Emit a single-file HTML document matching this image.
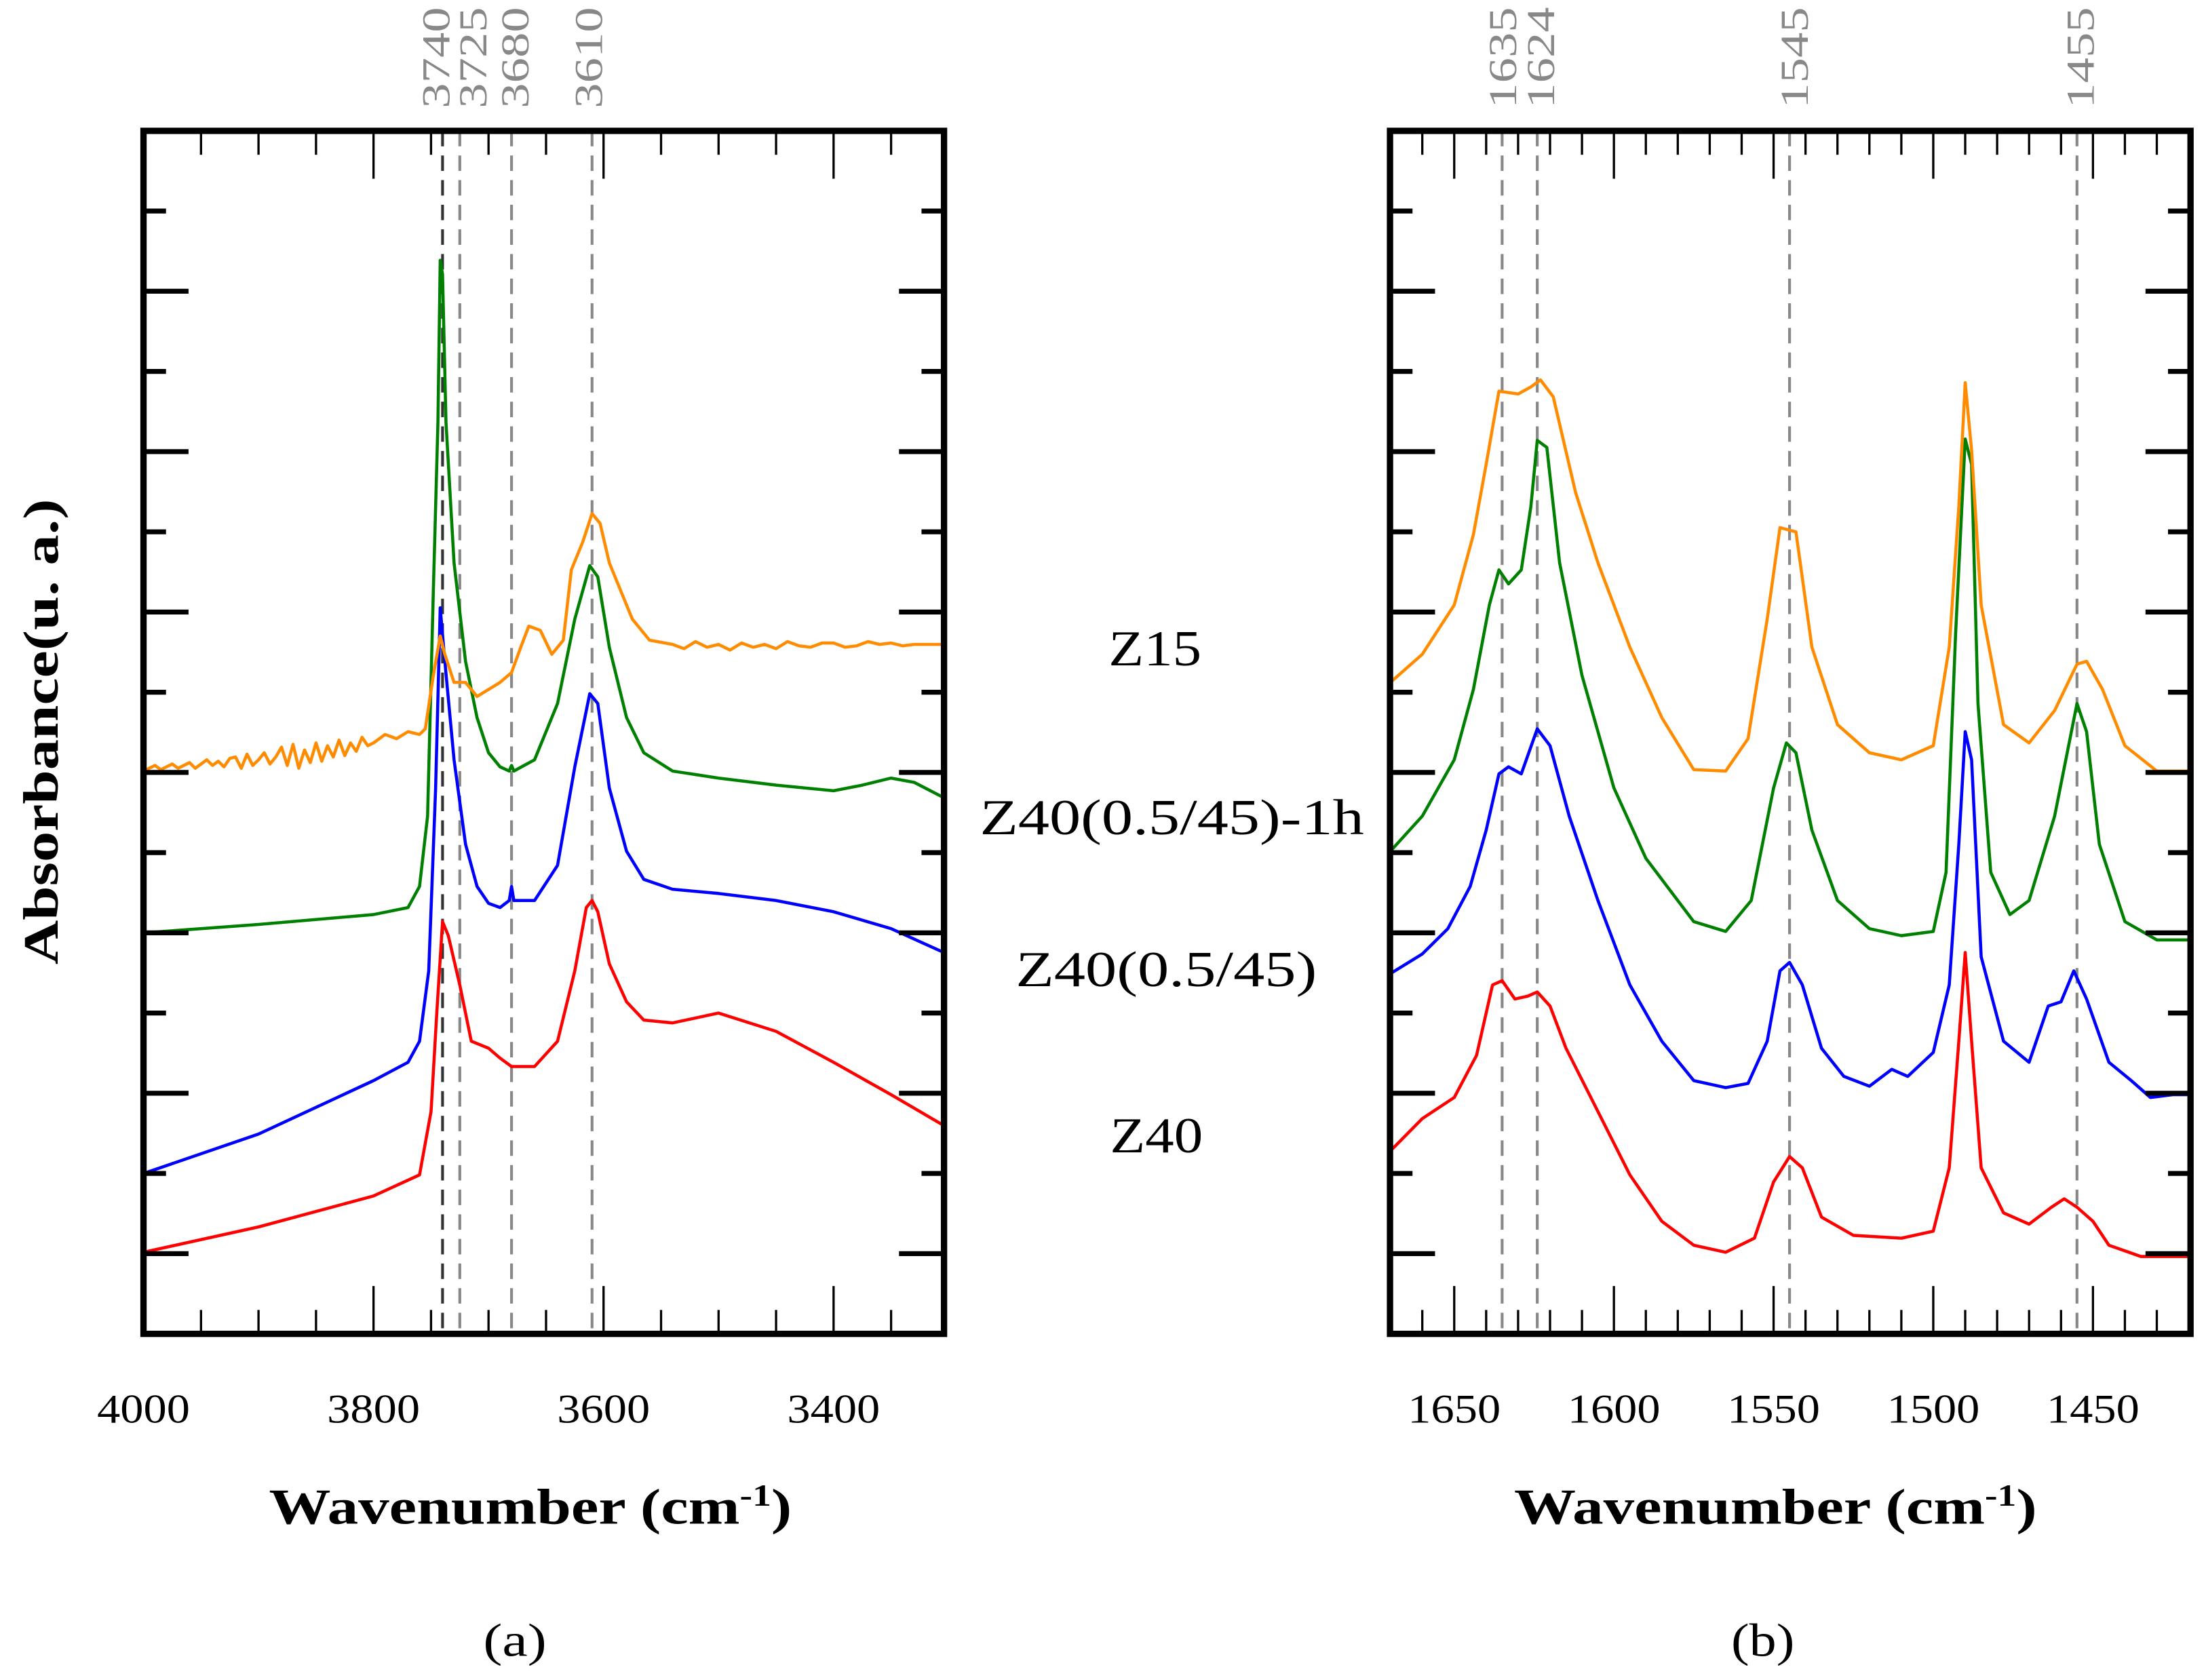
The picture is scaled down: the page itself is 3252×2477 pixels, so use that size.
<!DOCTYPE html>
<html><head><meta charset="utf-8"><style>
html,body{margin:0;padding:0;background:#fff}
svg{display:block}
text{font-family:"Liberation Serif",serif}
</style></head><body>
<svg id="fig" xmlns="http://www.w3.org/2000/svg" width="3252" height="2477" viewBox="0 0 1568 1194" preserveAspectRatio="none">
<defs>
<clipPath id="clipL"><rect x="102" y="93" width="569" height="855"/></clipPath>
<clipPath id="clipR"><rect x="988" y="93" width="569" height="855"/></clipPath>
</defs>
<g id="gL"></g>
<g id="gR"></g>
<text transform="translate(41,520) rotate(-90)" text-anchor="middle" font-size="35" font-weight="bold" textLength="331" lengthAdjust="spacingAndGlyphs">Absorbance(u. a.)</text>
<g transform="translate(377,1083) scale(1.22,1)"><text x="0" y="0" text-anchor="middle" font-size="36" font-weight="bold">Wavenumber (cm<tspan dy="-13" font-size="22">-1</tspan><tspan dy="13">)</tspan></text></g>
<g transform="translate(1262,1083) scale(1.22,1)"><text x="0" y="0" text-anchor="middle" font-size="36" font-weight="bold">Wavenumber (cm<tspan dy="-13" font-size="22">-1</tspan><tspan dy="13">)</tspan></text></g>
<text x="366" y="1177" text-anchor="middle" font-size="33" textLength="45" lengthAdjust="spacingAndGlyphs">(a)</text>
<text x="1253" y="1177" text-anchor="middle" font-size="33" textLength="45" lengthAdjust="spacingAndGlyphs">(b)</text>
<text x="821" y="473" text-anchor="middle" font-size="36" textLength="66" lengthAdjust="spacingAndGlyphs">Z15</text>
<text x="833" y="593" text-anchor="middle" font-size="36" textLength="273" lengthAdjust="spacingAndGlyphs">Z40(0.5/45)-1h</text>
<text x="829" y="701" text-anchor="middle" font-size="36" textLength="214" lengthAdjust="spacingAndGlyphs">Z40(0.5/45)</text>
<text x="822" y="819" text-anchor="middle" font-size="36" textLength="66" lengthAdjust="spacingAndGlyphs">Z40</text>
</svg>
<script>
// ---- Panel (a) data: wavenumber (cm-1) and absorbance (arb. milli-units)
const aRedW=[4000,3900,3800,3760,3750,3745,3740,3735,3725,3715,3700,3690,3680,3660,3640,3625,3615,3610,3605,3595,3580,3565,3540,3500,3450,3400,3350,3304];
const aRedV=[58,76,98,113,158,228,293,283,248,208,203,196,190,190,208,258,303,308,300,263,236,223,221,228,215,193,170,148];
const aBlueW=[4000,3900,3800,3770,3760,3752,3746,3742,3738,3730,3720,3710,3700,3690,3682,3680,3678,3660,3640,3625,3612,3605,3595,3580,3565,3540,3500,3450,3400,3350,3304];
const aBlueV=[114,142,180,193,208,258,388,516,478,408,348,318,306,303,308,318,308,308,333,403,455,448,388,343,323,316,313,308,300,288,271];
const aGreenW=[4000,3900,3800,3770,3760,3753,3748,3744,3742,3740,3737,3730,3720,3710,3700,3690,3682,3680,3678,3660,3640,3625,3612,3605,3595,3580,3565,3540,3500,3450,3400,3375,3350,3330,3304];
const aGreenV=[285,291,298,303,318,368,528,648,763,753,648,548,478,438,413,403,400,404,400,408,448,508,546,538,488,438,413,400,395,390,386,390,395,392,381];
const aOrangeW=[4000,3995,3990,3985,3980,3975,3970,3965,3960,3955,3950,3945,3940,3935,3930,3925,3920,3915,3910,3905,3900,3895,3890,3885,3880,3875,3870,3865,3860,3855,3850,3845,3840,3835,3830,3825,3820,3815,3810,3805,3800,3790,3780,3770,3760,3755,3748,3742,3738,3730,3720,3710,3700,3690,3680,3672,3665,3655,3645,3635,3628,3618,3610,3603,3595,3585,3575,3560,3540,3530,3520,3510,3500,3490,3480,3470,3460,3450,3440,3430,3420,3410,3400,3390,3380,3370,3360,3350,3340,3330,3304];
const aOrangeV=[400,402,404,401,403,405,402,404,406,402,405,408,404,407,403,409,410,402,412,404,408,413,405,410,417,404,419,402,415,406,420,407,418,410,422,411,420,414,424,418,420,426,423,428,426,430,468,496,483,463,463,453,458,463,470,488,503,500,483,493,543,563,583,576,548,528,508,493,490,487,492,488,490,486,491,488,490,487,492,489,488,491,491,488,489,492,490,491,489,490,490];
const aTickLabels=[4000,3800,3600,3400];
const aPeaks=[3740,3725,3680,3610];
// ---- Panel (b) data
const bRedW=[1670,1660,1650,1643,1638,1635,1631,1627,1624,1620,1615,1605,1595,1585,1575,1565,1556,1550,1545,1541,1535,1525,1510,1500,1495,1492,1490,1488,1485,1478,1470,1463,1459,1455,1450,1445,1435,1419];
const bRedV=[130,153,168,198,248,251,238,240,243,233,203,158,113,80,63,58,68,108,126,118,83,70,68,73,118,208,271,208,118,86,78,90,96,90,80,63,55,55];
const bBlueW=[1670,1660,1652,1645,1640,1636,1633,1629,1624,1620,1614,1605,1595,1585,1575,1565,1558,1552,1548,1545,1541,1535,1528,1520,1513,1508,1500,1495,1492,1490,1488,1485,1478,1470,1464,1460,1456,1452,1445,1438,1432,1425,1419];
const bBlueV=[256,270,288,318,358,398,403,398,430,418,368,308,248,208,180,175,178,208,258,264,248,203,183,176,188,183,200,248,348,428,408,268,208,193,233,236,258,238,193,180,168,170,170];
const bGreenW=[1670,1660,1650,1644,1639,1636,1633,1629,1626,1624,1621,1617,1610,1600,1590,1580,1575,1565,1557,1550,1546,1543,1538,1530,1520,1510,1500,1496,1493,1490,1488,1486,1482,1476,1470,1462,1455,1452,1448,1440,1430,1419];
const bGreenV=[343,368,408,458,518,543,533,543,588,635,630,548,468,388,338,308,293,286,308,388,420,413,358,308,288,283,286,328,498,636,618,448,328,298,308,368,448,428,348,293,280,280];
const bOrangeW=[1670,1660,1650,1644,1640,1636,1630,1626,1623,1619,1612,1605,1595,1585,1575,1565,1558,1552,1548,1543,1538,1530,1520,1510,1500,1495,1492,1490,1488,1485,1478,1470,1462,1455,1452,1447,1440,1430,1419];
const bOrangeV=[463,483,518,568,618,670,668,673,678,666,598,548,488,438,401,400,423,508,573,570,488,433,413,408,418,488,588,676,628,518,433,420,443,476,478,458,418,400,400];
const bTickLabels=[1650,1600,1550,1500,1450];
const bPeaks=[1635,1624,1545,1455];

const NS="http://www.w3.org/2000/svg";
const TOP=93,BOT=948;
function yS(v){return BOT-v*(BOT-TOP)/855;}
function mk(tag,attrs,parent){const e=document.createElementNS(NS,tag);for(const k in attrs)e.setAttribute(k,attrs[k]);parent.appendChild(e);return e;}

function panel(g,clip,x0,x1,xS,wFrom,wTo,minorStep,majorStep,ticks,peaks,labelShift,series,pfx){
  peaks.forEach((p,i)=>{
    const x=xS(p);
    const l=mk('line',{x1:x,x2:x,y1:TOP,y2:BOT,stroke:(i===0&&pfx==='a')?'#333':'#888','stroke-width':2,'stroke-dasharray':'11,6.5'},g);
    
    
    const t=mk('text',{transform:'translate('+(x+labelShift[i]+10)+',77) rotate(-90)','font-size':28,fill:'#888',textLength:72,lengthAdjust:'spacingAndGlyphs'},g);
    t.textContent=p;
    
    
  });
  const cg=mk('g',{'clip-path':'url(#'+clip+')'},g);
  series.forEach(s=>{
    const d=s.w.map((w,i)=>(i?'L':'M')+xS(w).toFixed(2)+','+yS(s.v[i]).toFixed(2)).join('');
    const p=mk('path',{d:d,fill:'none',stroke:s.c,'stroke-width':2.2,'stroke-linejoin':'round'},cg);
    
    
  });
  const lo=Math.min(wFrom,wTo),hi=Math.max(wFrom,wTo);
  for(let w=Math.ceil(lo/minorStep)*minorStep;w<=hi;w+=minorStep){
    const x=xS(w);if(x<=x0+2||x>=x1-2)continue;
    const major=(w%majorStep===0);const len=major?34:17;
    mk('line',{x1:x,x2:x,y1:TOP,y2:TOP+len,stroke:'#000','stroke-width':1.6},g);
    mk('line',{x1:x,x2:x,y1:BOT,y2:BOT-len,stroke:'#000','stroke-width':1.6},g);
  }
  ticks.forEach(w=>{
    const t=mk('text',{x:xS(w),y:1011,'text-anchor':'middle','font-size':29,textLength:66,lengthAdjust:'spacingAndGlyphs'},g);
    t.textContent=w;
    
    
  });
  for(let k=1;k<15;k++){
    const y=TOP+k*57;const len=(k%2===0)?32:16;
    mk('line',{x1:x0,x2:x0+len,y1:y,y2:y,stroke:'#000','stroke-width':3.5},g);
    mk('line',{x1:x1,x2:x1-len,y1:y,y2:y,stroke:'#000','stroke-width':3.5},g);
  }
  const fr=mk('rect',{x:x0,y:TOP,width:x1-x0,height:BOT-TOP,fill:'none',stroke:'#000','stroke-width':4.5},g);
  
  
}
function xA(w){return 102+(4000-w)*0.8175;}
function xB(w){return 1272+(1545-w)*2.27;}
panel(document.getElementById('gL'),'clipL',102,671,xA,4000,3304,50,200,aTickLabels,aPeaks,[-5,9,2,-3],[
 {n:'z40',c:'#ff0000',w:aRedW,v:aRedV},{n:'z40-05-45',c:'#0000ff',w:aBlueW,v:aBlueV},
 {n:'z40-05-45-1h',c:'#008000',w:aGreenW,v:aGreenV},{n:'z15',c:'#ff8c00',w:aOrangeW,v:aOrangeV}],'a');
panel(document.getElementById('gR'),'clipR',988,1557,xB,1670,1419,10,50,bTickLabels,bPeaks,[0,2,3,2],[
 {n:'z40',c:'#ff0000',w:bRedW,v:bRedV},{n:'z40-05-45',c:'#0000ff',w:bBlueW,v:bBlueV},
 {n:'z40-05-45-1h',c:'#008000',w:bGreenW,v:bGreenV},{n:'z15',c:'#ff8c00',w:bOrangeW,v:bOrangeV}],'b');
</script>
</body></html>
